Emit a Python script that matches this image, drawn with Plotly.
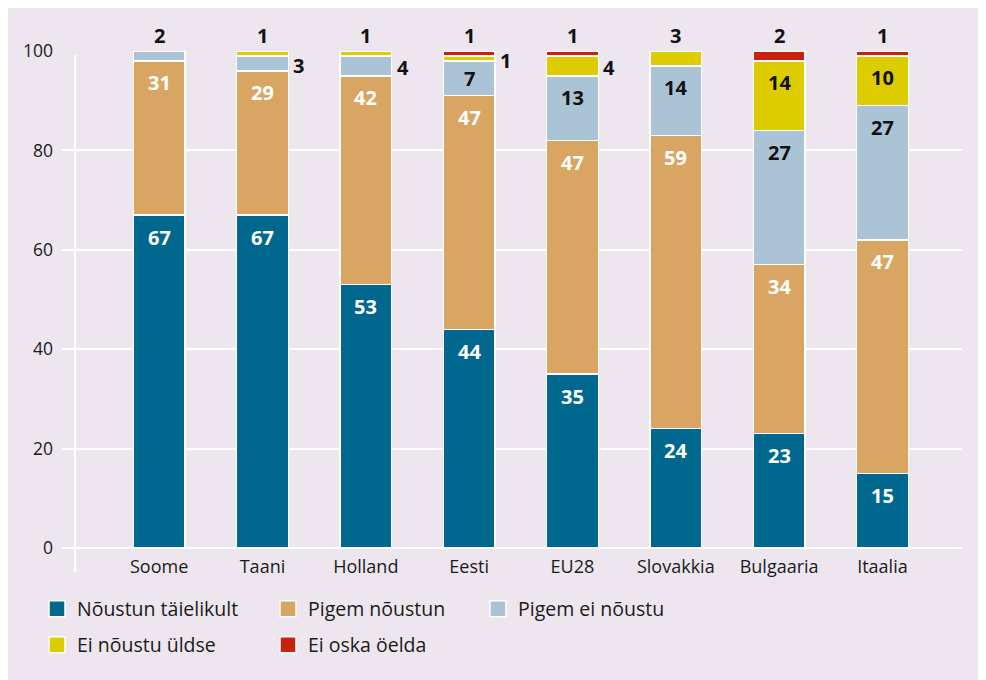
import plotly.graph_objects as go

# ---------------- data ----------------
categories = ["Soome", "Taani", "Holland", "Eesti", "EU28", "Slovakkia", "Bulgaaria", "Itaalia"]
series_names = ["Nõustun täielikult", "Pigem nõustun", "Pigem ei nõustu", "Ei nõustu üldse", "Ei oska öelda"]
noustun_taielikult = [67, 67, 53, 44, 35, 24, 23, 15]
pigem_noustun = [31, 29, 42, 47, 47, 59, 34, 47]
pigem_ei_noustu = [2, 3, 4, 7, 13, 14, 27, 27]
ei_noustu_uldse = [0, 1, 1, 1, 4, 3, 14, 10]
ei_oska_oelda = [0, 0, 0, 1, 1, 0, 2, 1]
y_ticks = [0, 20, 40, 60, 80, 100]

series_values = [noustun_taielikult, pigem_noustun, pigem_ei_noustu, ei_noustu_uldse, ei_oska_oelda]

# ---------------- style ----------------
colors = ["#00688f", "#d9a562", "#aac4d5", "#ddcd00", "#c8210f"]
inside_text_colors = ["white", "white", "#111111", "#111111", "#111111"]
BG = "#ede6ee"
FONT = "Open Sans, Noto Sans, sans-serif"

OFF = 8  # page offset of the figure (body margin)
W, H = 986, 680
# plot area in page pixels
PL, PR, PT, PB = 62, 962, 51, 548
L, T = PL - OFF, PT - OFF
R = W - (PR - OFF)
B = H - (PB - OFF)
PW, PH = PR - PL, PB - PT
PX_PER_UNIT = PH / 100.0


def px_x(px):
    return (px - PL) / PW


def px_y(py):
    return (PB - py) / PH


fig = go.Figure()

for i, (name, vals) in enumerate(zip(series_names, series_values)):
    fig.add_trace(go.Bar(
        x=categories, y=vals, name=name,
        marker=dict(color=colors[i], line=dict(color="white", width=1.5)),
        showlegend=False, hoverinfo="x+y+name",
    ))

# ---------------- value labels ----------------
annotations = []
for ci, cat in enumerate(categories):
    cum = 0
    nonzero = [k for k in range(len(series_values)) if series_values[k][ci] > 0]
    top_k = nonzero[-1]
    for k, vals in enumerate(series_values):
        v = vals[ci]
        bottom = cum
        cum += v
        if v <= 0:
            continue
        if v >= 5:
            shift = min(22, v * PX_PER_UNIT / 2)
            annotations.append(dict(
                x=cat, y=cum, text=f"<b>{v}</b>", showarrow=False,
                xanchor="center", yanchor="middle", yshift=-shift,
                font=dict(family=FONT, size=20, color=inside_text_colors[k]),
            ))
        elif k == top_k:
            annotations.append(dict(
                x=cat, y=cum, text=f"<b>{v}</b>", showarrow=False,
                xanchor="center", yanchor="middle", yshift=16,
                font=dict(family=FONT, size=20, color="#111111"),
            ))
        else:
            annotations.append(dict(
                x=cat, y=(bottom + cum) / 2, text=f"<b>{v}</b>", showarrow=False,
                xanchor="left", yanchor="middle", xshift=29, yshift=-2,
                font=dict(family=FONT, size=20, color="#111111"),
            ))

# ---------------- legend (one legend per entry for exact placement) ----------------
legend_pos = [(37, 609), (268, 609), (478, 609), (37, 645), (268, 645)]
legend_layouts = {}
for i, name in enumerate(series_names):
    key = "legend" if i == 0 else f"legend{i + 1}"
    fig.add_trace(go.Scatter(
        x=[None], y=[None], mode="markers", name=name,
        marker=dict(symbol="square", size=18, color=colors[i], line=dict(color="white", width=1.5)),
        showlegend=True, legend=key, hoverinfo="skip",
    ))
    lx, ly = legend_pos[i]
    legend_layouts[key] = dict(
        x=px_x(lx), y=px_y(ly), xanchor="left", yanchor="middle",
        bgcolor="rgba(0,0,0,0)", borderwidth=0,
        font=dict(family=FONT, size=19.5, color="#1a1a1a"),
        orientation="v",
    )

shapes = [
    # y axis line
    dict(type="line", xref="paper", yref="paper",
         x0=px_x(75), x1=px_x(75), y0=px_y(572), y1=px_y(55),
         line=dict(color="white", width=2), layer="below"),
]

fig.update_layout(
    width=W, height=H,
    margin=dict(l=L, r=R, t=T, b=B),
    barmode="stack", bargap=0.5,
    paper_bgcolor=BG, plot_bgcolor=BG,
    font=dict(family=FONT, color="#1a1a1a"),
    annotations=annotations, shapes=shapes,
    **legend_layouts,
)

fig.update_xaxes(
    type="category", range=[-0.94, 7.77], showgrid=False, showline=False,
    tickfont=dict(family=FONT, size=18, color="#1a1a1a"), ticks="",
    ticklabelstandoff=6,
)
fig.update_yaxes(
    range=[0, 100], tickvals=y_ticks, showgrid=True, gridcolor="white", gridwidth=1.5,
    zeroline=True, zerolinecolor="white", zerolinewidth=2, showline=False,
    tickfont=dict(family=FONT, size=17.5, color="#1a1a1a"), ticks="",
    ticklabelstandoff=8,
)

fig.write_html("out.html")
